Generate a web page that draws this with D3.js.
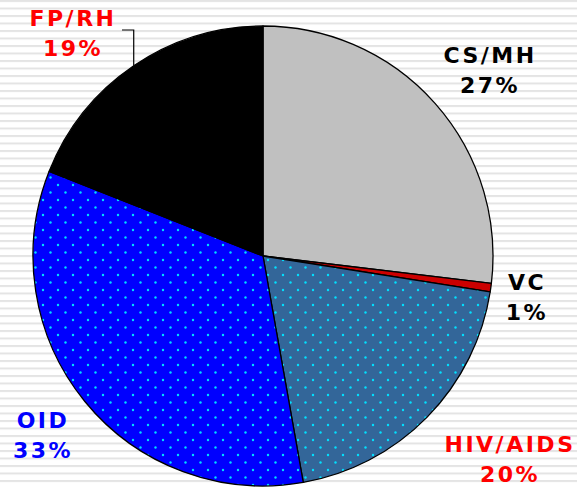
<!DOCTYPE html>
<html>
<head>
<style>
body {margin: 0; background: #fff;}
text {font-family: "DejaVu Sans", Verdana, sans-serif; font-weight: bold; font-size: 22px; letter-spacing: 2.5px;}
</style>
<script src="https://cdnjs.cloudflare.com/ajax/libs/d3/7.8.5/d3.min.js"></script>
</head>
<body>
<div id="chart-container"></div>
<script>
    const categories = ["CS/MH", "VC", "HIV/AIDS", "OID", "FP/RH"];
    const shares = [26.9, 0.6, 19.7, 33.8, 19.0];
    const pctLabels = ["27%", "1%", "20%", "33%", "19%"];

    const width = 577;
    const height = 487;
    const cx = 263, cy = 256, radius = 230;

    const fills = ["#c0c0c0", "#cc0000", "url(#dotsTeal)", "url(#dotsBlue)", "#000000"];
    const labelColor = ["#000000", "#000000", "#ff0000", "#0000ff", "#ff0000"];
    // label centres (x, baseline of first line)
    const labelPos = [[490, 63], [527, 290], [510, 452], [43, 428], [73, 26]];

    const svg = d3.select("#chart-container")
        .append("svg")
        .attr("width", width)
        .attr("height", height);

    const defs = svg.append("defs");

    // striped backdrop
    const stripes = defs.append("pattern")
        .attr("id", "stripes")
        .attr("patternUnits", "userSpaceOnUse")
        .attr("width", 8).attr("height", 7.5);
    stripes.append("rect").attr("width", 8).attr("height", 7.5).attr("fill", "#ffffff");
    stripes.append("rect").attr("y", 0).attr("width", 8).attr("height", 2).attr("fill", "#e4e4e4");

    function dotPattern(id, bg) {
        const p = defs.append("pattern")
            .attr("id", id)
            .attr("patternUnits", "userSpaceOnUse")
            .attr("x", 3).attr("y", 2)
            .attr("width", 15).attr("height", 15);
        p.append("rect").attr("width", 15).attr("height", 15).attr("fill", bg);
        p.append("circle").attr("cx", 2).attr("cy", 2).attr("r", 1.2).attr("fill", "#00e0ff");
        p.append("circle").attr("cx", 9.5).attr("cy", 9.5).attr("r", 1.2).attr("fill", "#00e0ff");
    }
    dotPattern("dotsTeal", "#336699");
    dotPattern("dotsBlue", "#0000ff");

    svg.append("rect")
        .attr("width", width)
        .attr("height", height)
        .attr("fill", "url(#stripes)");

    const pie = d3.pie().sort(null).value(d => d)(shares);
    const arc = d3.arc().innerRadius(0).outerRadius(radius);

    const g = svg.append("g").attr("transform", `translate(${cx},${cy})`);

    g.selectAll("path")
        .data(pie)
        .join("path")
        .attr("d", arc)
        .attr("fill", (d, i) => fills[i])
        .attr("stroke", "#000")
        .attr("stroke-width", 1.3)
        .attr("stroke-linejoin", "round");

    // leader line for FP/RH, drops onto the middle of its arc
    const fp = pie[4];
    const edgeA = (fp.startAngle + fp.endAngle) / 2;
    const ex = cx + radius * Math.sin(edgeA);
    const ey = cy - radius * Math.cos(edgeA);
    svg.append("polyline")
        .attr("points", `122,30 ${ex},30 ${ex},${ey}`)
        .attr("fill", "none")
        .attr("stroke", "#000")
        .attr("stroke-width", 1.2);

    const labels = svg.append("g")
        .selectAll("text")
        .data(categories)
        .join("text")
        .attr("text-anchor", "middle")
        .attr("fill", (d, i) => labelColor[i])
        .attr("x", (d, i) => labelPos[i][0])
        .attr("y", (d, i) => labelPos[i][1]);

    labels.append("tspan").text(d => d);
    labels.append("tspan")
        .attr("x", (d, i) => labelPos[i][0])
        .attr("dy", 30)
        .text((d, i) => pctLabels[i]);
</script>
</body>
</html>
